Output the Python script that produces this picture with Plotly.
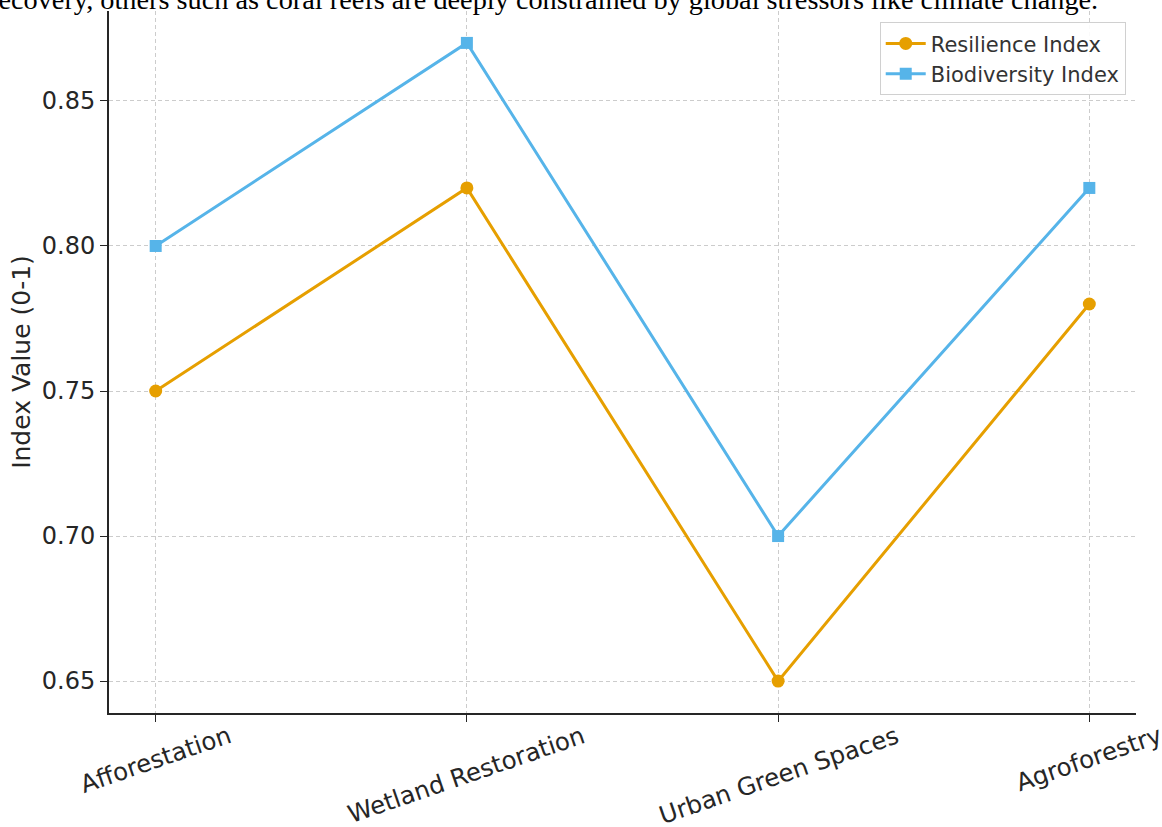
import plotly.graph_objects as go

# Restoration approaches and their index scores
categories = ["Afforestation", "Wetland Restoration", "Urban Green Spaces", "Agroforestry"]
resilience = [0.75, 0.82, 0.65, 0.78]
biodiversity = [0.80, 0.87, 0.70, 0.82]
y_ticks = [0.65, 0.70, 0.75, 0.80, 0.85]
y_tick_labels = ["0.65", "0.70", "0.75", "0.80", "0.85"]
caption = ("recovery, others such as coral reefs are deeply constrained by "
           "global stressors like climate change.")

ORANGE = "#E69F00"
BLUE = "#56B4E9"
SANS = "DejaVu Sans"
INK = "#262626"

x_pos = list(range(len(categories)))

fig = go.Figure()
fig.add_trace(go.Scatter(
    x=x_pos, y=resilience, mode="lines+markers", name="Resilience Index",
    line=dict(color=ORANGE, width=3),
    marker=dict(symbol="circle", size=13, color=ORANGE),
))
fig.add_trace(go.Scatter(
    x=x_pos, y=biodiversity, mode="lines+markers", name="Biodiversity Index",
    line=dict(color=BLUE, width=3),
    marker=dict(symbol="square", size=12, color=BLUE),
))

# Rotated category labels under the x axis
for i, name in enumerate(categories):
    fig.add_annotation(
        x=i, y=0, xref="x", yref="paper", text=name, showarrow=False,
        textangle=-19, xanchor="center", yanchor="top", yshift=-5,
        font=dict(family=SANS, size=24.5, color=INK),
    )

# Caption line running off the top of the page
fig.add_annotation(
    x=(1100 - 109) / 1027, y=1, xref="paper", yref="paper", text=caption,
    showarrow=False, xanchor="right", yanchor="bottom", yshift=-6,
    font=dict(family="Liberation Serif", size=28.3, color="#000000"),
)

fig.update_layout(
    width=1162, height=827,
    margin=dict(l=109, r=26, t=11, b=114),
    paper_bgcolor="white", plot_bgcolor="white",
    font=dict(family=SANS, size=24, color=INK),
    showlegend=True,
    legend=dict(
        x=0.990, y=0.984, xanchor="right", yanchor="top",
        bgcolor="rgba(255,255,255,0.9)", bordercolor="#d0d0d0", borderwidth=1,
        font=dict(family=SANS, size=21, color="#333333"),
        tracegroupgap=0, itemwidth=40,
    ),
    xaxis=dict(
        range=[-0.15, 3.15], tickmode="array", tickvals=x_pos,
        showticklabels=False, ticks="outside", ticklen=7, tickwidth=1.3,
        tickcolor=INK,
        showline=True, linecolor=INK, linewidth=2,
        showgrid=True, gridcolor="#cccccc", gridwidth=1, griddash="4px,3px",
        zeroline=False,
    ),
    yaxis=dict(
        range=[0.639, 0.881], tickmode="array", tickvals=y_ticks,
        ticktext=y_tick_labels, ticks="outside", ticklen=7, tickwidth=1.3,
        tickcolor=INK,
        tickfont=dict(family=SANS, size=24, color=INK),
        showline=True, linecolor=INK, linewidth=2,
        showgrid=True, gridcolor="#cccccc", gridwidth=1, griddash="4px,3px",
        zeroline=False,
        title=dict(text="Index Value (0-1)", standoff=4,
                   font=dict(family=SANS, size=25, color=INK)),
    ),
)

fig.write_html("out.html")
